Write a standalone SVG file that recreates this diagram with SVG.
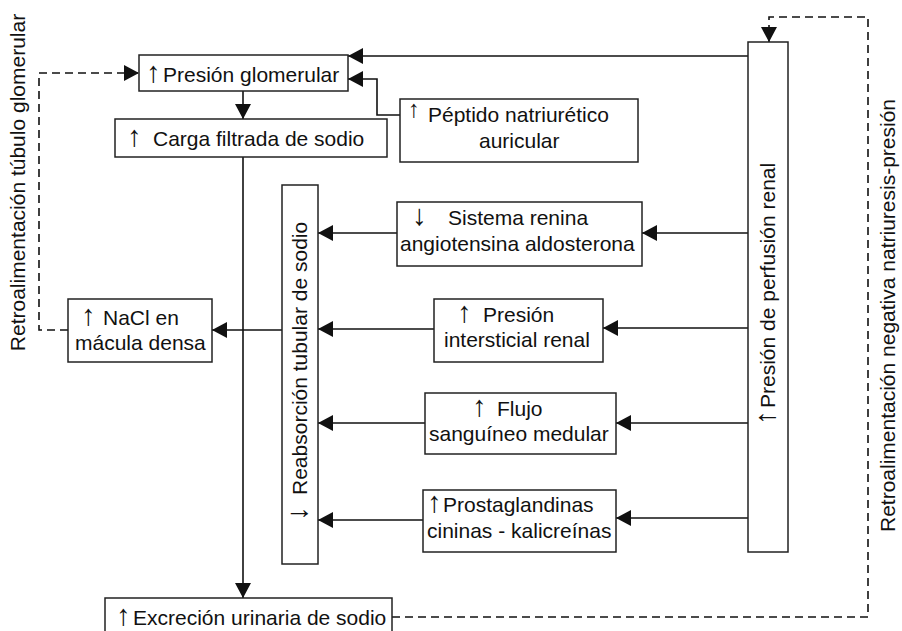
<svg xmlns="http://www.w3.org/2000/svg" width="902" height="631" viewBox="0 0 902 631">
<defs>
<style>
.box{fill:#fff;stroke:#222;stroke-width:1.5}
.t{font-family:"Liberation Sans",Arial,Helvetica,sans-serif;font-size:21px;fill:#111}
.a{font-size:29px}
.c{fill:none;stroke:#111;stroke-width:1.6}
.d{fill:none;stroke:#111;stroke-width:1.6;stroke-dasharray:8 5}
</style>
<marker id="ah" markerUnits="userSpaceOnUse" markerWidth="15" markerHeight="16" refX="15" refY="8" orient="auto">
<path d="M0,0 L15,8 L0,16 z" fill="#111"/>
</marker>
</defs>
<rect width="902" height="631" fill="#fff"/>

<g id="connectors">
<path class="c" d="M748,56 H348" marker-end="url(#ah)"/>
<path class="c" d="M400,115 H377 V79 H348" marker-end="url(#ah)"/>
<path class="c" d="M243,91 V119" marker-end="url(#ah)"/>
<path class="c" d="M243,157 V598" marker-end="url(#ah)"/>
<path class="c" d="M748,233 H642" marker-end="url(#ah)"/>
<path class="c" d="M397,233 H318" marker-end="url(#ah)"/>
<path class="c" d="M748,328 H603" marker-end="url(#ah)"/>
<path class="c" d="M434,329 H318" marker-end="url(#ah)"/>
<path class="c" d="M748,423 H616" marker-end="url(#ah)"/>
<path class="c" d="M425,423 H318" marker-end="url(#ah)"/>
<path class="c" d="M748,518 H616" marker-end="url(#ah)"/>
<path class="c" d="M423,520 H318" marker-end="url(#ah)"/>
<path class="c" d="M282,330 H212" marker-end="url(#ah)"/>
<path class="d" d="M68,330 H39 V73 H139" marker-end="url(#ah)"/>
<path class="d" d="M392,617 H868 V17 H769 V42" marker-end="url(#ah)"/>
</g>

<g id="n-presion-glomerular">
<rect class="box" x="139" y="55" width="209" height="36"/>
<text class="t" y="81.5"><tspan class="a" x="146">↑</tspan><tspan x="163">Presión glomerular</tspan></text>
</g>

<g id="n-carga-filtrada">
<rect class="box" x="115" y="119" width="272" height="38"/>
<text class="t" y="146"><tspan class="a" x="127">↑</tspan><tspan x="153">Carga filtrada de sodio</tspan></text>
</g>

<g id="n-peptido">
<rect class="box" x="400" y="99" width="238" height="63"/>
<text class="t" style="font-size:24px" x="408" y="117">↑</text>
<text class="t" x="428" y="121.5">Péptido natriurético</text>
<text class="t" x="479" y="148">auricular</text>
</g>

<g id="n-reabsorcion">
<rect class="box" x="282" y="185" width="36" height="379"/>
<text class="t" transform="rotate(-90 307 521)" y="521"><tspan class="a" x="307">↓</tspan><tspan x="333">Reabsorción tubular de sodio</tspan></text>
</g>

<g id="n-nacl">
<rect class="box" x="68" y="299" width="144" height="63"/>
<text class="t" y="325"><tspan class="a" x="81">↑</tspan><tspan x="103">NaCl en</tspan></text>
<text class="t" x="75" y="350">mácula densa</text>
</g>

<g id="n-sra">
<rect class="box" x="397" y="202" width="245" height="64"/>
<text class="t" y="225"><tspan class="a" x="412">↓</tspan><tspan x="448">Sistema renina</tspan></text>
<text class="t" x="400" y="251">angiotensina aldosterona</text>
</g>

<g id="n-presion-intersticial">
<rect class="box" x="434" y="299" width="169" height="63"/>
<text class="t" y="322"><tspan class="a" x="457">↑</tspan><tspan x="483">Presión</tspan></text>
<text class="t" x="444" y="347">intersticial renal</text>
</g>

<g id="n-flujo">
<rect class="box" x="425" y="393" width="191" height="61"/>
<text class="t" y="415.5"><tspan class="a" x="472">↑</tspan><tspan x="497">Flujo</tspan></text>
<text class="t" x="429" y="441">sanguíneo medular</text>
</g>

<g id="n-prostaglandinas">
<rect class="box" x="423" y="490" width="193" height="62"/>
<text class="t" y="511.5"><tspan class="a" x="427">↑</tspan><tspan x="443">Prostaglandinas</tspan></text>
<text class="t" x="427" y="538">cininas - kalicreínas</text>
</g>

<g id="n-perfusion">
<rect class="box" x="748" y="42" width="40" height="510"/>
<text class="t" transform="rotate(-90 775 425)" y="425"><tspan class="a" x="775">↑</tspan><tspan x="792">Presión de perfusión renal</tspan></text>
</g>

<g id="n-excrecion">
<rect class="box" x="105" y="598" width="287" height="42"/>
<text class="t" y="625"><tspan class="a" x="116">↑</tspan><tspan x="133">Excreción urinaria de sodio</tspan></text>
</g>

<g id="label-tubulo-glomerular">
<text class="t" text-anchor="middle" transform="rotate(-90 25 182.5)" x="25" y="182.5">Retroalimentación túbulo glomerular</text>
</g>

<g id="label-natriuresis-presion">
<text class="t" text-anchor="middle" transform="rotate(-90 895 315.5)" x="895" y="315.5">Retroalimentación negativa natriuresis-presión</text>
</g>
</svg>
